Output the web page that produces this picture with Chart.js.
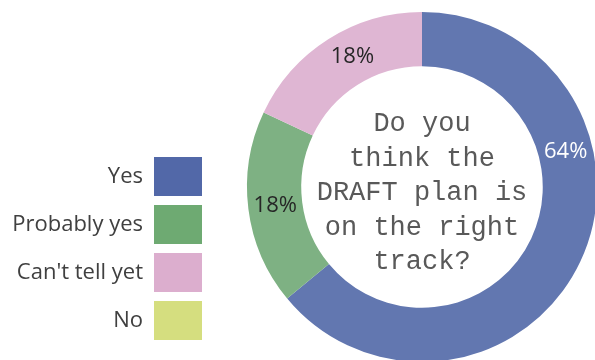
<!DOCTYPE html>
<html>
<head>
<meta charset="utf-8">
<script src="https://cdn.jsdelivr.net/npm/chart.js@4.4.0/dist/chart.umd.min.js"></script>
<style>
  html, body { margin: 0; padding: 0; background: #fff; overflow: hidden; }
  #wrap { width: 595px; height: 360px; overflow: hidden; position: relative; }
  canvas { position: absolute; left: 0; top: 0; }
</style>
</head>
<body>
<div id="wrap"><canvas id="grafico" width="640" height="374"></canvas></div>
<script>
// dati
var categorie = ['Yes', 'Probably yes', "Can't tell yet", 'No'];
var percentuali = [64, 18, 18, 0];
var etichette = ['64%', '18%', '18%', ''];
var coloriAnello = ['#6277b0', '#7eb183', '#dfb6d3', '#d6de80'];
var coloriLegenda = ['#5268a8', '#6eaa72', '#dcaece', '#d5de7f'];
var coloriEtichette = ['#ffffff', '#262626', '#262626', '#262626'];
var domanda = ['Do you', 'think the', 'DRAFT plan is', 'on the right', 'track?'];

// larghezza fissa della legenda a sinistra
var larghezzaLegenda = {
    id: 'larghezzaLegenda',
    beforeInit: function (chart, args, opts) {
        var legend = chart.legend;
        var fit = legend.fit;
        legend.fit = function () {
            fit.call(this);
            this.width = opts.width;
        };
    }
};

// percentuali sugli archi
var etichettePlugin = {
    id: 'etichette',
    afterDatasetsDraw: function (chart, args, opts) {
        var ctx = chart.ctx;
        var archi = chart.getDatasetMeta(0).data;
        ctx.save();
        ctx.font = opts.font;
        ctx.textAlign = 'center';
        ctx.textBaseline = 'middle';
        archi.forEach(function (arco, i) {
            if (!etichette[i]) return;
            var p = arco.getProps(['x', 'y', 'startAngle', 'endAngle', 'innerRadius', 'outerRadius']);
            var ang = opts.angoli[i] != null ? -Math.PI / 2 + opts.angoli[i] * 2 * Math.PI : (p.startAngle + p.endAngle) / 2;
            var r = (p.innerRadius + p.outerRadius) / 2;
            ctx.fillStyle = coloriEtichette[i];
            ctx.fillText(etichette[i], p.x + Math.cos(ang) * r, p.y + Math.sin(ang) * r);
        });
        ctx.restore();
    }
};

// testo al centro della ciambella
var domandaPlugin = {
    id: 'domanda',
    afterDraw: function (chart, args, opts) {
        var ctx = chart.ctx;
        var arco = chart.getDatasetMeta(0).data[0];
        ctx.save();
        ctx.font = opts.font;
        ctx.fillStyle = opts.color;
        ctx.textAlign = 'center';
        ctx.textBaseline = 'alphabetic';
        domanda.forEach(function (riga, i) {
            ctx.fillText(riga, arco.x, arco.y + opts.spostamento + (i - (domanda.length - 1) / 2) * opts.interlinea);
        });
        ctx.restore();
    }
};

var ctx = document.getElementById('grafico');
var chart = new Chart(ctx, {
    type: 'doughnut',
    data: {
        labels: categorie,
        datasets: [{
            data: percentuali,
            backgroundColor: coloriAnello,
            borderWidth: 0,
            hoverOffset: 0
        }]
    },
    options: {
        responsive: false,
        animation: false,
        cutout: '69%',
        layout: { padding: { top: 12, bottom: 12, left: 0, right: 7 } },
        plugins: {
            tooltip: { enabled: false },
            legend: {
                position: 'left',
                align: 'start',
                rtl: true,
                title: { display: true, text: '', padding: { top: 126, bottom: 0 }, font: { size: 10, lineHeight: 1 } },
                labels: {
                    boxWidth: 48,
                    boxHeight: 39,
                    padding: 9,
                    color: '#404040',
                    font: { family: 'Open Sans', size: 22 },
                    generateLabels: function (chart) {
                        var voci = Chart.overrides.doughnut.plugins.legend.labels.generateLabels(chart);
                        voci.forEach(function (v, i) {
                            v.fillStyle = coloriLegenda[i];
                            v.strokeStyle = coloriLegenda[i];
                            v.lineWidth = 0;
                        });
                        return voci;
                    }
                }
            },
            larghezzaLegenda: { width: 211 },
            etichette: { font: '22px "Open Sans"', angoli: [0.212, null, 0.922, null] },
            domanda: { font: '27px "Liberation Mono"', color: '#595959', spostamento: 13, interlinea: 34.5 }
        }
    },
    plugins: [larghezzaLegenda, etichettePlugin, domandaPlugin]
});
</script>
</body>
</html>
